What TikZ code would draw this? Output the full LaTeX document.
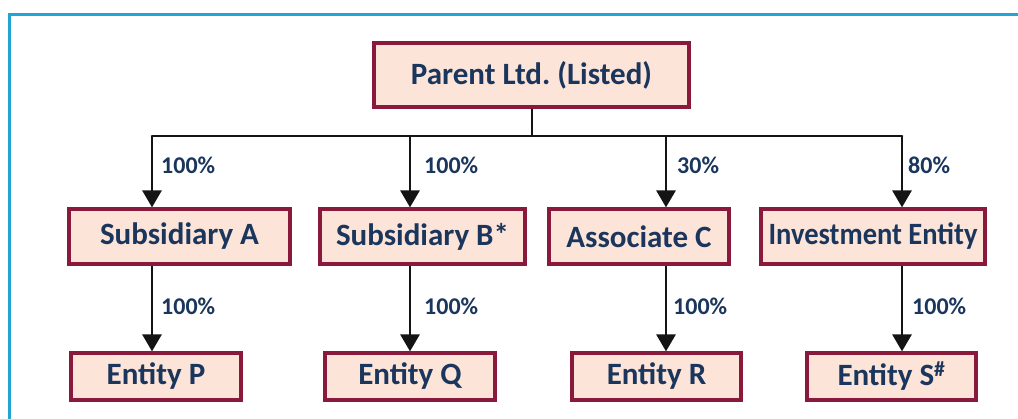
\documentclass[tikz,border=0pt]{standalone}
\usepackage{fontspec}
\setmainfont{Carlito}
\usetikzlibrary{arrows.meta}
\frenchspacing
\definecolor{framec}{HTML}{22A5D5}
\definecolor{boxfill}{HTML}{FCE4D8}
\definecolor{boxline}{HTML}{8A1A3C}
\definecolor{txtc}{HTML}{1A365C}
\tikzset{
  ent/.style={draw=boxline, fill=boxfill, line width=3.2pt, inner sep=0pt,
    font=\fontsize{31}{35}\selectfont\bfseries, text=txtc, anchor=center},
  conn/.style={line width=2.9pt, black!92},
  arr/.style={conn, -{Triangle[width=19pt,length=17pt]}},
  pct/.style={font=\fontsize{24}{27}\selectfont\bfseries, text=txtc, anchor=west, inner sep=0pt}
}
\begin{document}
\begin{tikzpicture}[x=1pt,y=-1pt]
\useasboundingbox (0,0) rectangle (1018,419);
\fill[white] (0,0) rectangle (1018,419);
% frame
\draw[framec, line width=2.8pt] (9.6,420) -- (9.6,14.5) -- (1020,14.5);
% nodes
\node[ent, minimum width=315pt, minimum height=64pt] (par) at (531.5,75) {Parent Ltd.\ (Listed)};
\node[ent, minimum width=221pt, minimum height=55pt] (sa) at (179.5,236.5) {Subsidiary A};
\node[ent, minimum width=205pt, minimum height=55pt] (sb) at (422.5,236.5) {Subsidiary B*};
\node[ent, minimum width=180pt, minimum height=55pt] (ac) at (639,236.5) {Associate C};
\node[ent, minimum width=224pt, minimum height=55pt] (ie) at (873,236.5) {\scalebox{0.92}[1]{Investment Entity}};
\node[ent, minimum width=170pt, minimum height=47pt] (ep) at (156,376.5) {Entity P};
\node[ent, minimum width=170pt, minimum height=47pt] (eq) at (410,376.5) {Entity Q};
\node[ent, minimum width=169pt, minimum height=47pt] (er) at (656.5,376.5) {Entity R};
\node[ent, minimum width=169pt, minimum height=47pt] (es) at (891.5,376.5) {Entity S\textsuperscript{\#}};
% column coordinates
\coordinate (bus) at (532,136);
\coordinate (c1) at (152,136);
\coordinate (c2) at (410,136);
\coordinate (c3) at (666,136);
\coordinate (c4) at (902,136);
% bus
\draw[conn] (par.south -| bus) -- (bus);
\draw[conn, line cap=round] (c1) -- (c4);
\draw[arr] (c1) -- (sa.north -| c1);
\draw[arr] (c2) -- (sb.north -| c2);
\draw[arr] (c3) -- (ac.north -| c3);
\draw[arr] (c4) -- (ie.north -| c4);
\draw[arr] (sa.south -| c1) -- (ep.north -| c1);
\draw[arr] (sb.south -| c2) -- (eq.north -| c2);
\draw[arr] (ac.south -| c3) -- (er.north -| c3);
\draw[arr] (ie.south -| c4) -- (es.north -| c4);
% labels
\node[pct] (l1) at (161,165.5) {100\%};
\node[pct] (l2) at (424,165.5) {100\%};
\node[pct] (l3) at (677,165.5) {30\%};
\node[pct] (l4) at (908,165.5) {80\%};
\node[pct] (l5) at (161,306) {100\%};
\node[pct] (l6) at (424,306) {100\%};
\node[pct] (l7) at (673,306) {100\%};
\node[pct] (l8) at (912,306) {100\%};
\end{tikzpicture}
\end{document}
